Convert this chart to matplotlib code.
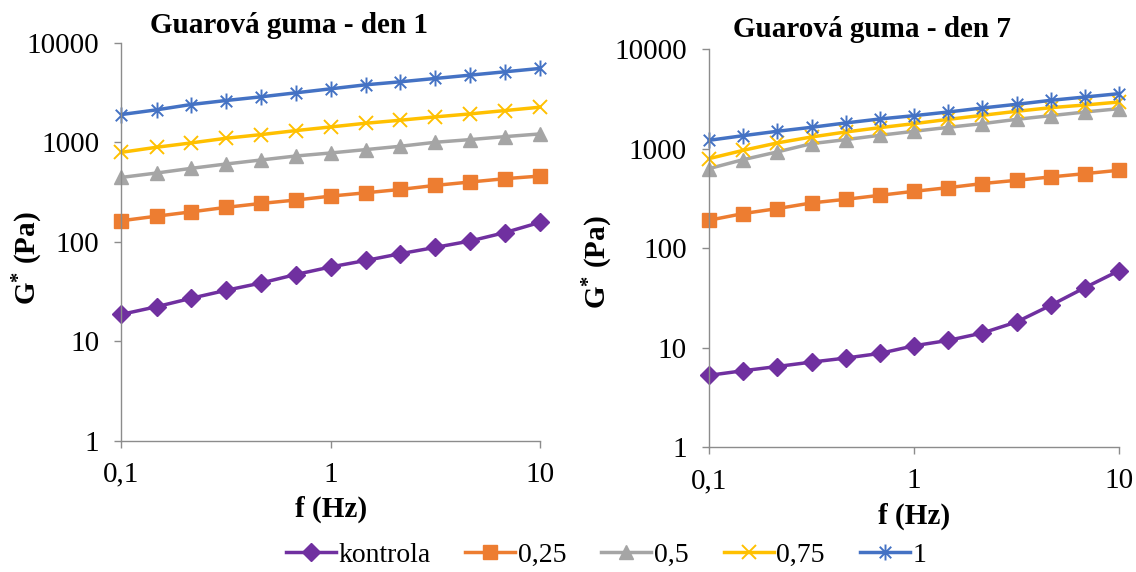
import numpy as np
import matplotlib
matplotlib.use("Agg")
import matplotlib.pyplot as plt
from matplotlib.path import Path
from matplotlib.ticker import FixedLocator, FixedFormatter, NullLocator

plt.rcParams['font.family'] = ['Liberation Serif', 'DejaVu Serif']
plt.rcParams['mathtext.fontset'] = 'custom'
plt.rcParams['mathtext.rm'] = 'Liberation Serif'
plt.rcParams['mathtext.bf'] = 'Liberation Serif:bold'

# frekvence (Hz)
freq = [0.1, 0.147, 0.215, 0.316, 0.464, 0.681, 1.0, 1.47, 2.15, 3.16, 4.64, 6.81, 10.0]

labels = ['kontrola', '0,25', '0,5', '0,75', '1']

# den 1
den1_kontrola = [18.7, 22.3, 27.1, 32.6, 38.6, 47, 56, 65, 76, 88, 102, 124, 157]
den1_025 = [163, 181, 200, 222, 243, 263, 288, 311, 336, 369, 399, 431, 458]
den1_05 = [444, 491, 547, 605, 664, 728, 781, 844, 912, 1000, 1064, 1140, 1213]
den1_075 = [793, 891, 985, 1097, 1194, 1310, 1426, 1553, 1665, 1799, 1928, 2083, 2251]
den1_1 = [1900, 2117, 2395, 2627, 2860, 3138, 3443, 3778, 4049, 4374, 4725, 5105, 5516]

# den 7
den7_kontrola = [5.3, 5.9, 6.5, 7.2, 7.9, 8.8, 10.5, 11.9, 14.1, 18.2, 26.8, 40.3, 59.7]
den7_025 = [191, 223, 250, 285, 310, 340, 373, 406, 446, 481, 520, 561, 607]
den7_05 = [630, 776, 926, 1122, 1231, 1361, 1493, 1637, 1782, 1968, 2143, 2333, 2518]
den7_075 = [794, 962, 1140, 1309, 1469, 1624, 1782, 1968, 2159, 2370, 2578, 2741, 2938]
den7_1 = [1212, 1350, 1493, 1637, 1810, 1985, 2143, 2333, 2558, 2786, 3054, 3298, 3564]

# hvezdicka jako v Excelu (svisla cara + X)
star = Path([(0, -1), (0, 1), (-0.72, -0.72), (0.72, 0.72), (-0.72, 0.72), (0.72, -0.72)],
            [Path.MOVETO, Path.LINETO, Path.MOVETO, Path.LINETO, Path.MOVETO, Path.LINETO])

styles = [
    dict(color='#7030A0', marker='D', ms=9),
    dict(color='#ED7D31', marker='s', ms=9.5),
    dict(color='#A5A5A5', marker='^', ms=10.5),
    dict(color='#FFC000', marker='x', ms=10.5, mew=1.4),
    dict(color='#4472C4', marker=star, ms=11.5, mew=1.4),
]

fig = plt.figure(figsize=(11.36, 5.72), dpi=100)
ax1 = fig.add_axes([0.10695, 0.22902, 0.3684, 0.69633])
ax2 = fig.add_axes([0.62412, 0.21766, 0.36118, 0.69668])

panels = [
    (ax1, [den1_kontrola, den1_025, den1_05, den1_075, den1_1], 'Guarová guma - den 1', 289,
     (-0.183, 0.459), 33),
    (ax2, [den7_kontrola, den7_025, den7_05, den7_075, den7_1], 'Guarová guma - den 7', 872,
     (-0.23, 0.465), 37),
]

for ax, series, title, tx, ylab_pos, ty in panels:
    for vals, lab, st in zip(series, labels, styles):
        ax.plot(freq, vals, lw=2.5, label=lab, clip_on=False, **st)
    ax.set_xscale('log')
    ax.set_yscale('log')
    ax.set_xlim(0.1, 10)
    ax.set_ylim(1, 10000)
    ax.xaxis.set_major_locator(FixedLocator([0.1, 1, 10]))
    ax.xaxis.set_major_formatter(FixedFormatter(['0,1', '1', '10']))
    ax.yaxis.set_major_locator(FixedLocator([1, 10, 100, 1000, 10000]))
    ax.yaxis.set_major_formatter(FixedFormatter(['1', '10', '100', '1000', '10000']))
    ax.xaxis.set_minor_locator(NullLocator())
    ax.yaxis.set_minor_locator(NullLocator())
    for s in ['top', 'right']:
        ax.spines[s].set_visible(False)
    for s in ['left', 'bottom']:
        ax.spines[s].set_color('#8C8C8C')
        ax.spines[s].set_linewidth(1.0)
    ax.tick_params(axis='both', direction='out', length=5, width=1.0, color='#8C8C8C',
                   labelsize=21)
    ax.tick_params(axis='x', pad=10)
    ax.tick_params(axis='y', pad=11)
    ax.set_xlabel('f (Hz)', fontsize=21, fontweight='bold', labelpad=6)
    ax.set_ylabel(r'$\mathbf{G^{*}}$ (Pa)', fontsize=21, fontweight='bold')
    ax.yaxis.set_label_coords(*ylab_pos)
    fig.text(tx / 1136, 1 - ty / 572, title, ha='center', va='baseline',
             fontsize=21, fontweight='bold')

handles, labs = ax1.get_legend_handles_labels()
fig.legend(handles, labs, loc='center', bbox_to_anchor=(606 / 1136, 1 - 555 / 572),
           ncol=5, frameon=False, fontsize=20, handlelength=1.8, handletextpad=0.1,
           columnspacing=1.25, borderaxespad=0)

fig.savefig('out.png', dpi=100)
